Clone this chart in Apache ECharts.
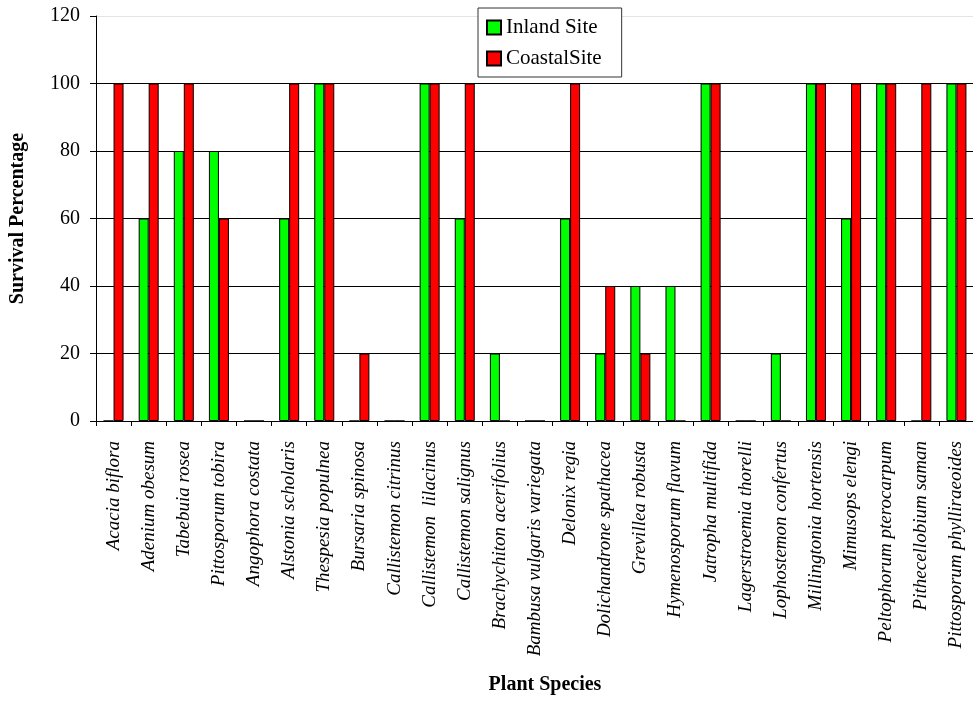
<!DOCTYPE html>
<html><head><meta charset="utf-8">
<script src="https://cdn.jsdelivr.net/npm/echarts@6/dist/echarts.min.js"></script>
<style>html,body{margin:0;padding:0;background:#fff}#c{width:973px;height:701px}</style>
</head><body><div id="c"></div>
<script>
const categories = ["Acacia biflora","Adenium obesum","Tabebuia rosea","Pittosporum tobira","Angophora costata","Alstonia scholaris","Thespesia populnea","Bursaria spinosa","Callistemon citrinus","Callistemon  lilacinus","Callistemon salignus","Brachychiton acerifolius","Bambusa vulgaris variegata","Delonix regia","Dolichandrone spathacea","Grevillea robusta","Hymenosporum flavum","Jatropha multifida","Lagerstroemia thorelli","Lophostemon confertus","Millingtonia hortensis","Mimusops elengi","Peltophorum pterocarpum","Pithecellobium saman","Pittosporum phylliraeoides"];
const inland  = [0,60,80,80,0,60,100,0,0,100,60,20,0,60,20,40,40,100,0,20,100,60,100,0,100];
const coastal = [100,100,100,60,0,100,100,20,0,100,100,0,0,100,40,20,0,100,0,0,100,100,100,100,100];
const yTicks = [0,20,40,60,80,100,120];
const font = "'Liberation Serif','Times New Roman',serif";
const chart = echarts.init(document.getElementById('c'));
chart.setOption({
  animation:false,
  textStyle:{fontFamily:font},
  legend:{
    orient:'vertical', left:478, top:8, width:140, icon:'rect',
    padding:[9,20,8,8], itemGap:10, itemWidth:14, itemHeight:14,
    borderColor:'#333', borderWidth:1, backgroundColor:'#fff',
    textStyle:{fontFamily:font, fontSize:21, color:'#000'},
    data:['Inland Site','CoastalSite']
  },
  grid:{left:96, top:16, width:878, height:405, containLabel:false, outerBoundsMode:'none'},
  xAxis:{
    type:'category', data:categories,
    name:'Plant Species', nameLocation:'middle', nameGap:254,
    nameTextStyle:{fontFamily:font, fontSize:20, fontWeight:'bold', color:'#000', padding:[0,0,0,20]},
    axisLine:{lineStyle:{color:'#000'}},
    axisTick:{show:true, length:5, alignWithLabel:false, lineStyle:{color:'#000'}},
    axisLabel:{rotate:90, interval:0, fontFamily:font, fontSize:19, fontStyle:'italic', color:'#000', margin:20}
  },
  yAxis:{
    type:'value', min:0, max:120, interval:20,
    name:'Survival Percentage', nameLocation:'middle', nameGap:68, nameRotate:90,
    nameTextStyle:{fontFamily:font, fontSize:20, fontWeight:'bold', color:'#000'},
    axisLine:{show:true, lineStyle:{color:'#000'}},
    axisTick:{show:true, length:6, lineStyle:{color:'#000'}},
    axisLabel:{fontFamily:font, fontSize:20, color:'#000', margin:16,
      formatter:function(v){return yTicks.indexOf(v)>=0?String(v):'';}},
    splitLine:{show:true, lineStyle:{color:['#000','#000','#000','#000','#000','#000','#e4e4e4'], width:1}}
  },
  series:[
    {name:'Inland Site', type:'bar', data:inland, barWidth:10, barGap:'0%',
     itemStyle:{color:'#00ff00', borderColor:'#000', borderWidth:1}},
    {name:'CoastalSite', type:'bar', data:coastal, barWidth:10, barGap:'0%',
     itemStyle:{color:'#ff0000', borderColor:'#000', borderWidth:1}}
  ]
});
</script></body></html>
